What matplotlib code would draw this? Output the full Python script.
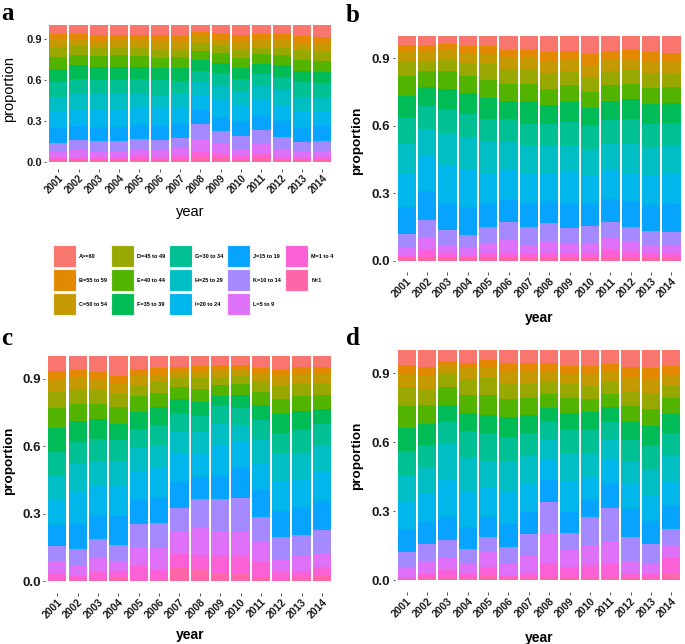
import numpy as np
import matplotlib
matplotlib.use("Agg")
import matplotlib.pyplot as plt
from matplotlib.patches import Rectangle

plt.rcParams['font.family'] = ['Liberation Sans', 'DejaVu Sans']

years = [str(y) for y in range(2001, 2015)]
categories = ["A>=60", "B=55 to 59", "C=50 to 54", "D=45 to 49", "E=40 to 44",
              "F=35 to 39", "G=30 to 34", "H=25 to 29", "I=20 to 24", "J=15 to 19",
              "K=10 to 14", "L=5 to 9", "M=1 to 4", "N<1"]
colors = ["#F8766D", "#E38900", "#C49A00", "#99A800", "#53B400", "#00BC56", "#00C094",
          "#00BFC4", "#00B6EB", "#06A4FF", "#A58AFF", "#DF70F8", "#FB61D7", "#FF66A8"]

# cumulative proportion at the lower edge of A, B, ..., M (one row per year)
cum_a = [
    [0.930, 0.888, 0.836, 0.767, 0.678, 0.580, 0.473, 0.362, 0.244, 0.138, 0.067, 0.025, 0.010],
    [0.930, 0.888, 0.843, 0.779, 0.703, 0.602, 0.498, 0.387, 0.264, 0.160, 0.084, 0.030, 0.010],
    [0.925, 0.883, 0.838, 0.774, 0.693, 0.599, 0.498, 0.382, 0.256, 0.148, 0.074, 0.030, 0.010],
    [0.925, 0.888, 0.838, 0.779, 0.693, 0.599, 0.498, 0.382, 0.256, 0.148, 0.074, 0.030, 0.010],
    [0.927, 0.888, 0.833, 0.774, 0.693, 0.602, 0.493, 0.395, 0.271, 0.163, 0.084, 0.039, 0.017],
    [0.925, 0.880, 0.826, 0.757, 0.681, 0.597, 0.488, 0.395, 0.261, 0.160, 0.084, 0.035, 0.015],
    [0.922, 0.880, 0.826, 0.762, 0.681, 0.589, 0.500, 0.392, 0.281, 0.175, 0.099, 0.042, 0.020],
    [0.947, 0.917, 0.868, 0.809, 0.742, 0.663, 0.582, 0.486, 0.380, 0.276, 0.165, 0.067, 0.030],
    [0.937, 0.897, 0.848, 0.791, 0.722, 0.646, 0.555, 0.449, 0.330, 0.227, 0.128, 0.054, 0.025],
    [0.925, 0.878, 0.823, 0.757, 0.688, 0.604, 0.510, 0.404, 0.293, 0.187, 0.094, 0.042, 0.017],
    [0.930, 0.888, 0.838, 0.784, 0.717, 0.641, 0.555, 0.449, 0.338, 0.232, 0.128, 0.054, 0.030],
    [0.932, 0.888, 0.833, 0.777, 0.705, 0.619, 0.523, 0.404, 0.296, 0.182, 0.094, 0.035, 0.015],
    [0.917, 0.868, 0.814, 0.745, 0.666, 0.582, 0.473, 0.362, 0.256, 0.141, 0.074, 0.030, 0.015],
    [0.910, 0.863, 0.804, 0.737, 0.658, 0.572, 0.468, 0.362, 0.259, 0.153, 0.079, 0.035, 0.015],
]
cum_b = [
    [0.959, 0.933, 0.885, 0.821, 0.734, 0.635, 0.522, 0.388, 0.237, 0.120, 0.055, 0.022, 0.010],
    [0.959, 0.931, 0.888, 0.844, 0.773, 0.687, 0.586, 0.466, 0.310, 0.182, 0.104, 0.050, 0.015],
    [0.964, 0.937, 0.894, 0.844, 0.764, 0.675, 0.567, 0.427, 0.258, 0.135, 0.071, 0.036, 0.018],
    [0.955, 0.922, 0.881, 0.820, 0.744, 0.653, 0.547, 0.409, 0.240, 0.116, 0.055, 0.022, 0.012],
    [0.955, 0.921, 0.874, 0.805, 0.725, 0.629, 0.526, 0.392, 0.255, 0.151, 0.080, 0.033, 0.015],
    [0.937, 0.900, 0.851, 0.786, 0.712, 0.629, 0.526, 0.406, 0.271, 0.171, 0.092, 0.033, 0.018],
    [0.942, 0.905, 0.850, 0.785, 0.710, 0.609, 0.515, 0.388, 0.255, 0.150, 0.070, 0.028, 0.012],
    [0.930, 0.890, 0.833, 0.764, 0.691, 0.609, 0.511, 0.392, 0.267, 0.167, 0.083, 0.036, 0.012],
    [0.933, 0.896, 0.842, 0.780, 0.707, 0.618, 0.515, 0.394, 0.258, 0.147, 0.076, 0.036, 0.010],
    [0.919, 0.871, 0.819, 0.752, 0.679, 0.599, 0.498, 0.381, 0.258, 0.154, 0.077, 0.036, 0.012],
    [0.931, 0.893, 0.842, 0.781, 0.710, 0.626, 0.522, 0.406, 0.274, 0.171, 0.101, 0.047, 0.012],
    [0.937, 0.899, 0.847, 0.786, 0.718, 0.630, 0.519, 0.386, 0.262, 0.150, 0.086, 0.040, 0.012],
    [0.928, 0.888, 0.833, 0.768, 0.699, 0.607, 0.500, 0.380, 0.249, 0.132, 0.070, 0.033, 0.012],
    [0.925, 0.888, 0.835, 0.771, 0.701, 0.614, 0.510, 0.388, 0.252, 0.128, 0.065, 0.028, 0.012],
]
cum_c = [
    [0.934, 0.897, 0.839, 0.768, 0.682, 0.576, 0.472, 0.364, 0.252, 0.155, 0.084, 0.034, 0.004],
    [0.937, 0.904, 0.854, 0.789, 0.712, 0.619, 0.521, 0.398, 0.255, 0.144, 0.071, 0.024, 0.004],
    [0.931, 0.897, 0.850, 0.787, 0.721, 0.631, 0.533, 0.423, 0.295, 0.187, 0.107, 0.041, 0.009],
    [0.912, 0.878, 0.835, 0.774, 0.700, 0.629, 0.533, 0.423, 0.290, 0.160, 0.087, 0.046, 0.016],
    [0.943, 0.910, 0.866, 0.823, 0.752, 0.675, 0.591, 0.486, 0.366, 0.253, 0.152, 0.068, 0.012],
    [0.946, 0.915, 0.884, 0.838, 0.774, 0.694, 0.605, 0.503, 0.376, 0.259, 0.148, 0.056, 0.007],
    [0.952, 0.933, 0.903, 0.864, 0.810, 0.748, 0.668, 0.568, 0.441, 0.326, 0.222, 0.123, 0.064],
    [0.956, 0.933, 0.906, 0.854, 0.798, 0.736, 0.662, 0.567, 0.465, 0.366, 0.238, 0.117, 0.049],
    [0.961, 0.938, 0.907, 0.872, 0.824, 0.777, 0.699, 0.599, 0.472, 0.366, 0.224, 0.117, 0.031],
    [0.961, 0.940, 0.910, 0.876, 0.827, 0.770, 0.694, 0.619, 0.503, 0.372, 0.219, 0.112, 0.037],
    [0.949, 0.924, 0.888, 0.839, 0.783, 0.716, 0.632, 0.525, 0.404, 0.286, 0.175, 0.086, 0.019],
    [0.944, 0.912, 0.870, 0.808, 0.743, 0.660, 0.568, 0.443, 0.312, 0.195, 0.099, 0.043, 0.009],
    [0.952, 0.921, 0.879, 0.824, 0.756, 0.672, 0.568, 0.453, 0.329, 0.206, 0.114, 0.046, 0.015],
    [0.952, 0.921, 0.882, 0.827, 0.765, 0.699, 0.605, 0.486, 0.358, 0.228, 0.124, 0.064, 0.027],
]
cum_d = [
    [0.936, 0.899, 0.839, 0.758, 0.664, 0.562, 0.455, 0.342, 0.219, 0.125, 0.052, 0.016, 0.006],
    [0.926, 0.888, 0.833, 0.762, 0.680, 0.587, 0.491, 0.380, 0.254, 0.158, 0.084, 0.029, 0.012],
    [0.954, 0.932, 0.899, 0.841, 0.764, 0.688, 0.591, 0.439, 0.277, 0.177, 0.096, 0.043, 0.014],
    [0.946, 0.922, 0.875, 0.807, 0.729, 0.651, 0.530, 0.385, 0.233, 0.138, 0.070, 0.028, 0.012],
    [0.958, 0.926, 0.885, 0.807, 0.720, 0.639, 0.519, 0.400, 0.274, 0.190, 0.129, 0.059, 0.019],
    [0.946, 0.910, 0.859, 0.788, 0.711, 0.619, 0.519, 0.385, 0.245, 0.146, 0.070, 0.023, 0.009],
    [0.943, 0.907, 0.855, 0.793, 0.720, 0.639, 0.543, 0.419, 0.296, 0.201, 0.106, 0.033, 0.009],
    [0.945, 0.910, 0.862, 0.810, 0.751, 0.688, 0.613, 0.523, 0.436, 0.342, 0.201, 0.077, 0.016],
    [0.932, 0.897, 0.852, 0.793, 0.729, 0.653, 0.553, 0.426, 0.298, 0.204, 0.132, 0.059, 0.013],
    [0.933, 0.897, 0.845, 0.787, 0.730, 0.653, 0.553, 0.451, 0.354, 0.274, 0.154, 0.067, 0.013],
    [0.940, 0.904, 0.862, 0.809, 0.755, 0.690, 0.613, 0.523, 0.425, 0.316, 0.172, 0.071, 0.013],
    [0.926, 0.881, 0.823, 0.756, 0.688, 0.609, 0.514, 0.417, 0.309, 0.190, 0.084, 0.033, 0.012],
    [0.922, 0.875, 0.816, 0.746, 0.671, 0.585, 0.478, 0.372, 0.259, 0.156, 0.072, 0.029, 0.012],
    [0.932, 0.893, 0.849, 0.791, 0.723, 0.642, 0.542, 0.433, 0.322, 0.225, 0.154, 0.096, 0.026],
]
yticks = [0.0, 0.3, 0.6, 0.9]
ytick_labels = ["0.0", "0.3", "0.6", "0.9"]
panel_letters = ["a", "b", "c", "d"]

W, H = 685, 644
fig = plt.figure(figsize=(W / 100, H / 100), dpi=100)


def px_axes(left, top, right, bottom):
    return fig.add_axes([left / W, 1 - bottom / H, (right - left) / W, (bottom - top) / H])


def draw_panel(ax, cum, ytick_fs, xtick_fs):
    cum = np.asarray(cum)
    n = cum.shape[0]
    edges = np.hstack([np.ones((n, 1)), cum, np.zeros((n, 1))])
    x = np.arange(n)
    for k in range(len(categories)):
        top = edges[:, k]
        bot = edges[:, k + 1]
        ax.bar(x, top - bot, bottom=bot, width=0.9, color=colors[k], linewidth=0)
    ax.set_xlim(-0.6, n - 0.4)
    ax.set_ylim(-0.05, 1.05)
    for s in ax.spines.values():
        s.set_visible(False)
    ax.set_yticks(yticks)
    ax.set_yticklabels(ytick_labels, fontsize=ytick_fs, fontweight='bold', color='#1a1a1a')
    ax.set_xticks(x)
    ax.set_xticklabels(years, fontsize=xtick_fs, fontweight='bold', color='#1a1a1a',
                       rotation=45, ha='right', va='top', rotation_mode='anchor')
    ax.tick_params(axis='both', length=1.8, width=0.6, color='#333333', pad=1.2)
    ax.set_facecolor('none')


ax_a = px_axes(46, 18, 334.5, 168.5)
draw_panel(ax_a, cum_a, 8, 7)
ax_b = px_axes(394.5, 24.7, 683.7, 271.9)
draw_panel(ax_b, cum_b, 9.5, 7.5)
ax_c = px_axes(45.1, 344.8, 334.2, 592.6)
draw_panel(ax_c, cum_c, 9.5, 7.5)
ax_d = px_axes(394.5, 338.8, 683.5, 591.8)
draw_panel(ax_d, cum_d, 9.5, 7.5)

# axis titles
fig.text(9 / W, 1 - 89.5 / H, "proportion", rotation=90, ha='center', va='center', fontsize=10.5)
fig.text(190 / W, 1 - 212 / H, "year", ha='center', va='center', fontsize=10.5)
fig.text(357 / W, 1 - 141 / H, "proportion", rotation=90, ha='center', va='center', fontsize=9.7, fontweight='bold')
fig.text(539 / W, 1 - 318 / H, "year", ha='center', va='center', fontsize=10, fontweight='bold')
fig.text(9 / W, 1 - 461 / H, "proportion", rotation=90, ha='center', va='center', fontsize=9.7, fontweight='bold')
fig.text(190 / W, 1 - 635 / H, "year", ha='center', va='center', fontsize=10, fontweight='bold')
fig.text(357 / W, 1 - 456 / H, "proportion", rotation=90, ha='center', va='center', fontsize=9.7, fontweight='bold')
fig.text(539 / W, 1 - 638 / H, "year", ha='center', va='center', fontsize=10, fontweight='bold')

# panel letters
letter_pos = [(1, 20), (346, 22), (1, 345), (346, 345)]
for lab, (lx, ly) in zip(panel_letters, letter_pos):
    fig.text(lx / W, 1 - ly / H, lab, ha='left', va='baseline', fontsize=18,
             fontweight='bold', family='Liberation Serif')

# legend (5 columns x 3 rows, column-major like ggplot)
lax = px_axes(45, 238, 340, 322)
lax.set_xlim(45, 340)
lax.set_ylim(322, 238)
lax.axis('off')
for i, (cat, col) in enumerate(zip(categories, colors)):
    c, r = i // 3, i % 3
    kx = 53.3 + 58 * c
    ky = 245 + 24 * r
    lax.add_patch(Rectangle((kx, ky), 22.3, 22.3, facecolor=col, edgecolor='#f2f2f2', linewidth=0.8))
    lax.text(kx + 26, ky + 11.5, cat, ha='left', va='center', fontsize=4, fontweight='bold')

fig.savefig("out.png", dpi=100)
